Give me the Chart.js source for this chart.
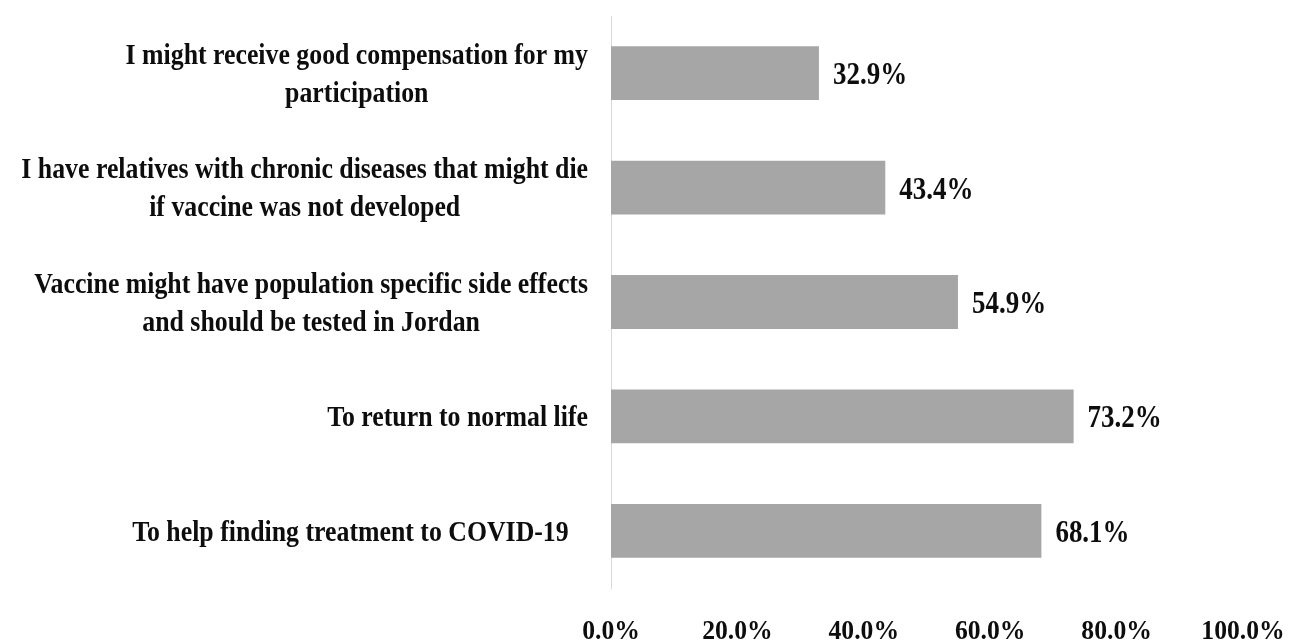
<!DOCTYPE html>
<html>
<head>
<meta charset="utf-8">
<script src="https://cdn.jsdelivr.net/npm/chart.js@4.4.0/dist/chart.umd.min.js"></script>
<style>
  html, body { margin: 0; padding: 0; background: #ffffff; overflow: hidden; }
  #wrap { width: 1301px; height: 641px; position: relative; }
</style>
</head>
<body>
<div id="wrap"><canvas id="c"></canvas></div>
<script>
const categories = [
  ["I might receive good compensation for my", "participation"],
  ["I have relatives with chronic diseases that might die", "if vaccine was not developed"],
  ["Vaccine might have population specific side effects", "and should be tested in Jordan"],
  ["To return to normal life"],
  ["To help finding treatment to COVID-19   "]
];
const values = [32.9, 43.4, 54.9, 73.2, 68.1];
const xTicks = [0, 20, 40, 60, 80, 100];

const FONT = "'Liberation Serif', 'Times New Roman', serif";
const TEXT = '#0d0d0d';

function drawCondensed(ctx, text, x, y, sx, align) {
  ctx.save();
  ctx.translate(x, y);
  ctx.scale(sx, 1);
  ctx.textAlign = align;
  ctx.fillText(text, 0, 0);
  ctx.restore();
}

const textPlugin = {
  id: 'textPlugin',
  afterDatasetsDraw(chart) {
    const ctx = chart.ctx;
    const xs = chart.scales.x, ys = chart.scales.y;
    const area = chart.chartArea;
    ctx.save();
    ctx.fillStyle = TEXT;
    ctx.textBaseline = 'middle';

    // category labels (block right aligned, lines centered within block)
    const SX = 0.86, LH = 38, RIGHT = area.left - 23;
    ctx.font = "bold 30px " + FONT;
    categories.forEach((lines, i) => {
      const cy = ys.getPixelForTick(i) + 2;
      const widths = lines.map(l => ctx.measureText(l).width * SX);
      const blockW = Math.max(...widths);
      const cx = RIGHT - blockW / 2;
      const top = cy - (lines.length - 1) * LH / 2;
      lines.forEach((l, k) => drawCondensed(ctx, l, cx, top + k * LH, SX, 'center'));
    });

    // value labels
    ctx.font = "bold 31px " + FONT;
    chart.getDatasetMeta(0).data.forEach((bar, i) => {
      drawCondensed(ctx, values[i].toFixed(1) + '%', bar.x + 14, bar.y + 3, 0.87, 'left');
    });

    // x tick labels
    ctx.font = "bold 27px " + FONT;
    xTicks.forEach(v => {
      drawCondensed(ctx, v.toFixed(1) + '%', xs.getPixelForValue(v), area.bottom + 44, 0.95, 'center');
    });
    ctx.restore();
  }
};

new Chart(document.getElementById('c'), {
  type: 'bar',
  data: {
    labels: categories,
    datasets: [{
      data: values,
      backgroundColor: '#a6a6a6',
      borderWidth: 0,
      barPercentage: 0.47,
      categoryPercentage: 1.0
    }]
  },
  options: {
    indexAxis: 'y',
    responsive: true,
    maintainAspectRatio: false,
    animation: false,
    layout: { padding: { top: 16, right: 58, bottom: 53, left: 0 } },
    plugins: { legend: { display: false }, tooltip: { enabled: false } },
    scales: {
      x: {
        min: 0, max: 100,
        afterBuildTicks(scale) { scale.ticks = xTicks.map(v => ({ value: v })); },
        afterFit(scale) { scale.height = 0; scale.paddingLeft = 0; scale.paddingRight = 0; },
        grid: { display: false },
        border: { display: false },
        ticks: { display: false }
      },
      y: {
        afterFit(scale) { scale.width = 611; scale.paddingTop = 0; scale.paddingBottom = 0; },
        grid: { display: false },
        border: { display: true, color: '#d9d9d9', width: 1 },
        ticks: { display: false }
      }
    }
  },
  plugins: [textPlugin]
});
</script>
</body>
</html>
